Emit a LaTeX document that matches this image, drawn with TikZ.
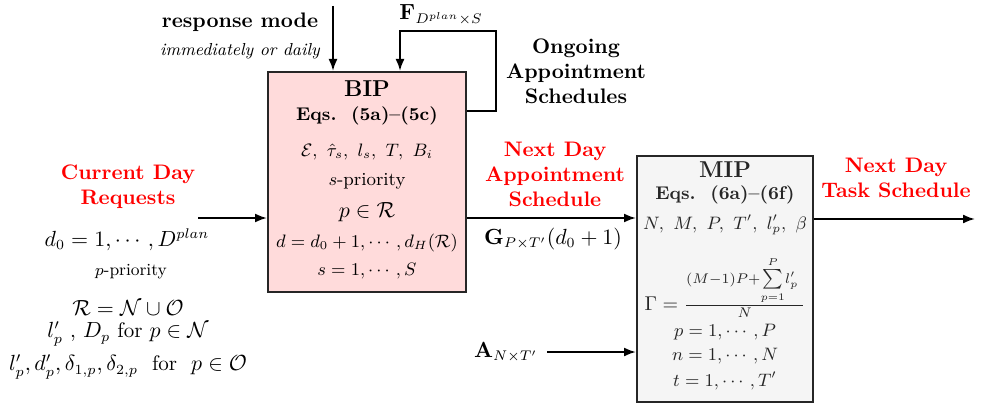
\documentclass[tikz,border=0pt]{standalone}
\usepackage{amsmath,amssymb}
\usetikzlibrary{arrows.meta}
\newcommand{\fsz}{\fontsize{10.5}{12.5}\selectfont}
\newcommand{\fsm}{\fontsize{9.2}{11}\selectfont}
\begin{document}
\begin{tikzpicture}[x=0.5pt,y=-0.5pt,
  blockbox/.style={draw=black!85, line width=1pt, inner sep=0pt},
  arr/.style={-{Latex[length=6pt,width=4.5pt]}, line width=1pt},
  redlbl/.style={text=red, font=\bfseries\fsz, align=center},
  blklbl/.style={font=\bfseries\fsz, align=center},
  txt/.style={font=\fsz, inner sep=0pt},
  smalltxt/.style={font=\fsm, inner sep=0pt}]
\useasboundingbox (0,0) rectangle (983,406);

% optimisation blocks
\node[blockbox, fill=red!14, minimum width=99pt, minimum height=110pt] (bip) at (367,182) {};
\node[blockbox, fill=black!4, minimum width=88pt, minimum height=123pt] (mip) at (725,279) {};

% BIP contents
\node[txt, font=\bfseries\fontsize{11.5}{13}\selectfont] (biptitle) at (367,89) {BIP};
\node[smalltxt, font=\bfseries\fsm] (bipeqs) at (367,116) {Eqs.~~(5a)--(5c)};
\node[smalltxt] (bippar) at (367,152) {$\mathcal{E},\ \hat{\tau}_s,\ l_s,\ T,\ B_i$};
\node[smalltxt] (bipprio) at (367,181) {$s$-priority};
\node[txt] (bipset) at (367,212) {$p \in \mathcal{R}$};
\node[smalltxt] (bipd) at (367,243) {$d = d_0 + 1, \cdots, d_H(\mathcal{R})$};
\node[smalltxt] (bips) at (367,271) {$s = 1, \cdots, S$};

% MIP contents
\begin{scope}[every node/.append style={text=black!85}]
\node[txt, font=\bfseries\fontsize{11.5}{13}\selectfont] (miptitle) at (725,170) {MIP};
\node[smalltxt, font=\bfseries\fsm] (mipeqs) at (725,195) {Eqs.~~(6a)--(6f)};
\node[smalltxt] (mippar) at (725,225) {$N,\ M,\ P,\ T',\ l'_p,\ \beta$};
\node[smalltxt, font=\fontsize{9.8}{12}\selectfont] (mipgamma) at (725,287) {$\Gamma = \frac{(M-1)P+{\textstyle\sum\limits_{\scriptscriptstyle p=1}^{\scriptscriptstyle P}} l'_p\;}{N}$};
\node[smalltxt] (mipp) at (725,332) {$p = 1, \cdots, P$};
\node[smalltxt] (mipn) at (725,356) {$n = 1, \cdots, N$};
\node[smalltxt] (mipt) at (725,381) {$t = 1, \cdots, T'$};
\end{scope}

% response mode input
\node[blklbl] (resp) at (240,22) {response mode};
\node[txt, font=\itshape\fontsize{8.7}{10.5}\selectfont] (respsub) at (240,51) {immediately or daily};
\coordinate (resptop) at (333,6);
\draw[arr] (resptop) -- (resptop |- bip.north);

% feedback of ongoing schedules
\coordinate (fbout) at (bip.east |- 0,111);
\coordinate (fbin) at (bip.north -| 400,0);
\draw[arr] (fbout) -- ++(29,0) |- (400,31) -- (fbin);
\node[txt] (flbl) at (441,15) {$\mathbf{F}_{D^{plan}\times S}$};
\node[blklbl] (ongoing) at (576,71) {Ongoing\\Appointment\\Schedules};

% current day requests
\node[redlbl] (cur) at (128,187) {Current Day\\Requests};
\coordinate (curin) at (198,218);
\draw[arr] (curin) -- (curin -| bip.west);
\node[txt] (d0) at (127,240) {$d_0 = 1, \cdots, D^{plan}$};
\node[smalltxt, font=\fontsize{8.5}{10}\selectfont] (pprio) at (131,272) {$p$-priority};
\node[txt] (rset) at (128,308) {$\mathcal{R} = \mathcal{N} \cup \mathcal{O}$};
\node[txt] (nset) at (128,334) {$l'_p$ , $D_p$ for $p \in \mathcal{N}$};
\node[txt] (oset) at (128,367) {$l'_p, d'_p, \delta_{1,p}, \delta_{2,p}$~~for~~$p \in \mathcal{O}$};

% BIP to MIP
\coordinate (bipout) at (bip.east |- 0,218);
\draw[arr] (bipout) -- (bipout -| mip.west);
\node[redlbl] (nextapp) at (555,174) {Next Day\\Appointment\\Schedule};
\node[txt] (glbl) at (553,239) {$\mathbf{G}_{P\times T'}(d_0+1)$};

% A input
\node[txt] (albl) at (506,352) {$\mathbf{A}_{N\times T'}$};
\coordinate (ain) at (547,352);
\draw[arr] (ain) -- (ain -| mip.west);

% MIP output
\coordinate (mipout) at (mip.east |- 0,219);
\coordinate (taskend) at (975,219);
\draw[arr] (mipout) -- (taskend);
\node[redlbl] (nexttask) at (896,178) {Next Day\\Task Schedule};
\end{tikzpicture}
\end{document}
